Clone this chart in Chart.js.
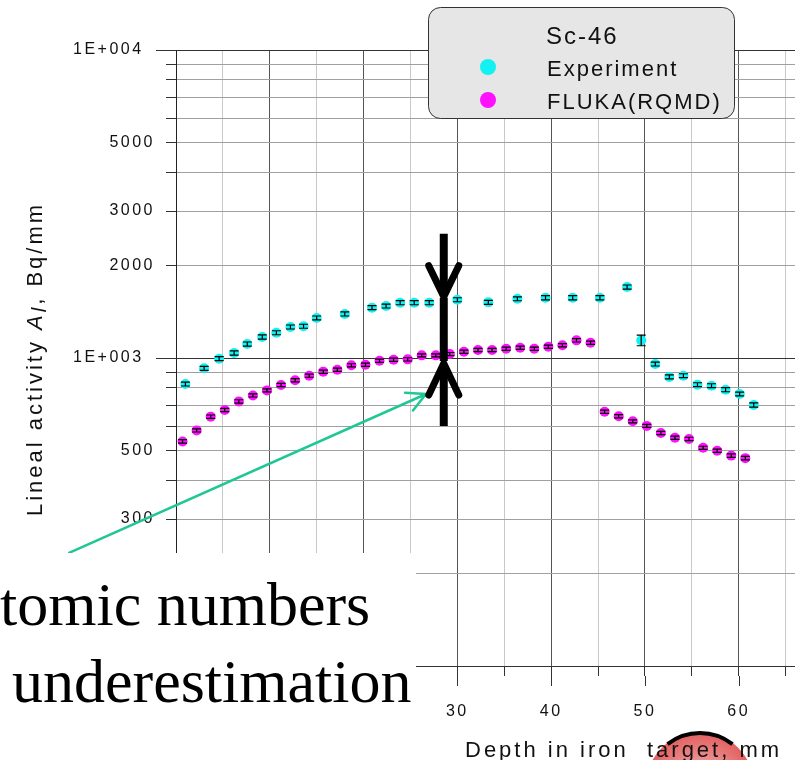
<!DOCTYPE html>
<html>
<head>
<meta charset="utf-8">
<script src="https://cdn.jsdelivr.net/npm/chart.js@4.4.0/dist/chart.umd.min.js"></script>
<style>
  html, body { margin: 0; padding: 0; background: #fff; }
  canvas { display: block; }
</style>
</head>
<body>
<canvas id="chart" width="795" height="760"></canvas>
<script>
// Sc-46 lineal activity vs depth in the iron target
const expDepth = [1.0, 3.0, 4.6, 6.2, 7.6, 9.2, 10.7, 12.2, 13.6, 15.0, 18.0, 20.9, 22.4, 23.9, 25.4, 27.0,
  30.0, 33.3, 36.4, 39.4, 42.3, 45.2, 48.1, 49.6, 51.1, 52.6, 54.1, 55.6, 57.1, 58.6, 60.1, 61.6];
const expActivity = [823, 926, 995, 1038, 1110, 1170, 1208, 1261, 1268, 1349, 1390, 1457, 1475, 1512, 1512, 1512,
  1546, 1516, 1557, 1569, 1569, 1569, 1700, 1141, 956, 868, 876, 819, 813, 789, 764, 704];
const expError = [12, 14, 15, 16, 17, 18, 18, 19, 19, 20, 21, 22, 22, 23, 23, 23,
  23, 23, 23, 24, 24, 24, 26, 45, 14, 13, 13, 12, 12, 12, 11, 11];

const flukaDepth = [0.7, 2.2, 3.7, 5.2, 6.7, 8.2, 9.7, 11.2, 12.7, 14.2, 15.7, 17.2, 18.7, 20.2, 21.7, 23.2,
  24.7, 26.2, 27.7, 29.2, 30.7, 32.2, 33.7, 35.2, 36.7, 38.2, 39.7, 41.2, 42.7, 44.2, 45.7, 47.2,
  48.7, 50.2, 51.7, 53.2, 54.7, 56.2, 57.7, 59.2, 60.7];
const flukaActivity = [536, 582, 645, 678, 723, 756, 785, 817, 847, 876, 903, 916, 947, 951, 980, 987,
  990, 1020, 1020, 1030, 1048, 1062, 1062, 1072, 1080, 1072, 1088, 1100, 1141, 1121, 669, 647,
  623, 602, 571, 551, 546, 511, 500, 482, 473];
const flukaError = [7, 7, 8, 8, 9, 9, 9, 10, 10, 10, 11, 11, 11, 11, 12, 12,
  12, 12, 12, 12, 13, 13, 13, 13, 13, 13, 13, 13, 14, 13, 8, 8,
  7, 7, 7, 7, 7, 6, 6, 6, 6];

const xTickValues = [0, 5, 10, 15, 20, 25, 30, 35, 40, 45, 50, 55, 60, 65];
const yTickValues = [100, 200, 300, 400, 500, 600, 700, 800, 900,
  1000, 2000, 3000, 4000, 5000, 6000, 7000, 8000, 9000, 10000];
const yTickLabels = { 100: '1E+002', 200: '200', 300: '300', 500: '500', 1000: '1E+003',
  2000: '2000', 3000: '3000', 5000: '5000', 10000: '1E+004' };

// annotation anchors, in data units (mm, Bq/mm)
const bracketX = 28.55;
const greenFrom = { x: -11.4, y: 233 };
const greenTo = { x: 26.66, y: 764 };

const SANS = "'Liberation Sans', Arial, sans-serif";
const SERIF = "'Liberation Serif', 'Times New Roman', serif";
Chart.defaults.font.family = SANS;
Chart.defaults.color = '#111';

const toPoints = (xs, ys, es) => xs.map((x, i) => ({ x: x, y: ys[i], err: es[i] }));
const isDecade = v => Math.abs(Math.log10(v) - Math.round(Math.log10(v))) < 1e-9;

const overlay = {
  id: 'overlay',
  beforeDraw(chart) {
    const ctx = chart.ctx;
    ctx.save();
    ctx.fillStyle = '#fff';
    ctx.fillRect(0, 0, chart.width, chart.height);
    // red disc peeking in at the bottom
    const g = ctx.createRadialGradient(700, 800, 4, 700, 786, 56);
    g.addColorStop(0, '#f7d0d0');
    g.addColorStop(1, '#e25b5b');
    ctx.beginPath();
    ctx.arc(700, 786, 54, 0, Math.PI * 2);
    ctx.fillStyle = g;
    ctx.fill();
    ctx.beginPath();
    ctx.arc(700, 786, 53, Math.PI * 1.29, Math.PI * 1.71);
    ctx.lineWidth = 4;
    ctx.strokeStyle = '#000';
    ctx.stroke();
    ctx.restore();
    ctx.letterSpacing = '2.5px';
  },
  afterDatasetsDraw(chart) {
    const { ctx, scales: { x, y } } = chart;
    ctx.save();
    ctx.strokeStyle = '#000';
    ctx.lineWidth = 1.2;
    chart.data.datasets.forEach(ds => {
      ds.data.forEach(p => {
        const px = x.getPixelForValue(p.x);
        const top = y.getPixelForValue(p.y + p.err);
        const bot = y.getPixelForValue(p.y - p.err);
        ctx.beginPath();
        ctx.moveTo(px, top); ctx.lineTo(px, bot);
        ctx.moveTo(px - 4.5, top); ctx.lineTo(px + 4.5, top);
        ctx.moveTo(px - 4.5, bot); ctx.lineTo(px + 4.5, bot);
        ctx.stroke();
      });
    });
    ctx.restore();
  },
  afterDraw(chart) {
    const { ctx, chartArea: area, scales: { x, y } } = chart;
    ctx.save();
    ctx.letterSpacing = '0px';

    // longer ticks on decades and on every 10 mm
    ctx.strokeStyle = '#333';
    ctx.lineWidth = 1;
    ctx.beginPath();
    yTickValues.filter(isDecade).forEach(v => {
      const py = Math.round(y.getPixelForValue(v)) + 0.5;
      ctx.moveTo(area.left - 20, py); ctx.lineTo(area.left - 10, py);
    });
    xTickValues.filter(v => v % 10 === 0).forEach(v => {
      const px = Math.round(x.getPixelForValue(v)) + 0.5;
      ctx.moveTo(px, area.bottom + 10); ctx.lineTo(px, area.bottom + 20);
    });
    ctx.stroke();

    // y axis title with italic symbol
    ctx.save();
    ctx.translate(42, 359);
    ctx.rotate(-Math.PI / 2);
    ctx.letterSpacing = '3px';
    ctx.fillStyle = '#111';
    ctx.textBaseline = 'alphabetic';
    ctx.textAlign = 'left';
    const parts = [
      { t: 'Lineal activity ', f: '22px ' + SANS, dy: 0 },
      { t: 'A', f: 'italic 22px ' + SANS, dy: 0 },
      { t: 'l', f: 'italic 20px ' + SANS, dy: 4 },
      { t: ', Bq/mm', f: '22px ' + SANS, dy: 0 }
    ];
    let total = 0;
    parts.forEach(p => { ctx.font = p.f; p.w = ctx.measureText(p.t).width; total += p.w; });
    let cx = -total / 2;
    parts.forEach(p => { ctx.font = p.f; ctx.fillText(p.t, cx, p.dy); cx += p.w; });
    ctx.restore();

    // x axis title
    ctx.save();
    ctx.letterSpacing = '3px';
    ctx.font = '22px ' + SANS;
    ctx.fillStyle = '#111';
    ctx.textAlign = 'left';
    ctx.fillText('Depth in iron  target, mm', 465, 757);
    ctx.restore();

    // legend box
    ctx.save();
    ctx.beginPath();
    ctx.roundRect(428.5, 7.5, 306, 111, 12);
    ctx.fillStyle = '#e6e6e6';
    ctx.fill();
    ctx.strokeStyle = '#333';
    ctx.lineWidth = 1;
    ctx.stroke();
    ctx.fillStyle = '#111';
    ctx.textAlign = 'left';
    ctx.letterSpacing = '2px';
    ctx.font = '24px ' + SANS;
    ctx.fillText('Sc-46', 546, 44);
    ctx.font = '22px ' + SANS;
    chart.data.datasets.forEach((ds, i) => {
      const ly = 67 + i * 33;
      ctx.beginPath();
      ctx.arc(488, ly, 8, 0, Math.PI * 2);
      ctx.fillStyle = ds.backgroundColor;
      ctx.fill();
      ctx.fillStyle = '#111';
      ctx.fillText(ds.label, 547, ly + 9);
    });
    ctx.restore();

    // green pointer arrow
    const g0 = { x: x.getPixelForValue(greenFrom.x), y: y.getPixelForValue(greenFrom.y) };
    const g1 = { x: x.getPixelForValue(greenTo.x), y: y.getPixelForValue(greenTo.y) };
    const ang = Math.atan2(g0.y - g1.y, g0.x - g1.x);
    ctx.strokeStyle = '#1fc795';
    ctx.lineWidth = 2.5;
    ctx.lineCap = 'round';
    ctx.beginPath();
    ctx.moveTo(g0.x, g0.y); ctx.lineTo(g1.x, g1.y);
    [0.48, -0.48].forEach(d => {
      ctx.moveTo(g1.x, g1.y);
      ctx.lineTo(g1.x + 21 * Math.cos(ang + d), g1.y + 21 * Math.sin(ang + d));
    });
    ctx.stroke();

    // black double arrow marking the gap
    const bx = x.getPixelForValue(bracketX);
    const wing = x.getPixelForValue(bracketX + 1.6) - bx;
    const py = v => y.getPixelForValue(v);
    ctx.strokeStyle = '#000';
    ctx.fillStyle = '#000';
    ctx.lineWidth = 8;
    ctx.lineCap = 'butt';
    ctx.beginPath();
    ctx.moveTo(bx, py(2530)); ctx.lineTo(bx, py(1600));
    ctx.moveTo(bx, py(945)); ctx.lineTo(bx, py(602));
    ctx.stroke();
    ctx.fillRect(bx - 4, py(1569), 8, py(978) - py(1569));
    ctx.lineWidth = 7;
    ctx.lineCap = 'round';
    ctx.lineJoin = 'miter';
    ctx.beginPath();
    ctx.moveTo(bx - wing, py(1994)); ctx.lineTo(bx, py(1582)); ctx.lineTo(bx + wing, py(1994));
    ctx.moveTo(bx - wing, py(758)); ctx.lineTo(bx, py(961)); ctx.lineTo(bx + wing, py(758));
    ctx.stroke();

    // white text box pasted over the lower left
    ctx.fillStyle = '#fff';
    ctx.fillRect(0, 553, 416, chart.height - 553);
    ctx.fillStyle = '#000';
    ctx.font = '62px ' + SERIF;
    ctx.textAlign = 'left';
    ctx.fillText('tomic numbers', 0, 625);
    ctx.fillText('underestimation', 12, 702);
    ctx.restore();
  }
};

new Chart(document.getElementById('chart'), {
  type: 'scatter',
  data: {
    datasets: [
      {
        label: 'Experiment',
        data: toPoints(expDepth, expActivity, expError),
        backgroundColor: '#12f2f2',
        borderWidth: 0,
        pointRadius: 5,
        pointHoverRadius: 5
      },
      {
        label: 'FLUKA(RQMD)',
        data: toPoints(flukaDepth, flukaActivity, flukaError),
        backgroundColor: '#ff10ff',
        borderWidth: 0,
        pointRadius: 5,
        pointHoverRadius: 5
      }
    ]
  },
  options: {
    responsive: false,
    animation: false,
    layout: { autoPadding: false, padding: { top: 50, left: 0, right: 0, bottom: 0 } },
    plugins: {
      legend: { display: false },
      tooltip: { enabled: false }
    },
    scales: {
      x: {
        type: 'linear',
        min: 0,
        max: 66,
        afterBuildTicks: s => { s.ticks = xTickValues.map(v => ({ value: v })); },
        afterFit: s => {
          s.height = 94;
          s.paddingLeft = 0;
          s.paddingRight = 0;
        },
        ticks: {
          autoSkip: false,
          maxRotation: 0,
          padding: 26,
          font: { size: 16 },
          color: '#111',
          callback: v => (v % 10 === 0 ? String(v) : '')
        },
        grid: {
          color: c => (c.tick && c.tick.value % 10 === 0 ? '#555' : '#c8c8c8'),
          tickColor: '#333',
          tickLength: 10
        },
        border: { color: '#333' }
      },
      y: {
        type: 'logarithmic',
        min: 100,
        max: 10000,
        afterBuildTicks: s => { s.ticks = yTickValues.map(v => ({ value: v })); },
        afterFit: s => {
          s.width = 176;
          s.paddingTop = 0;
          s.paddingBottom = 0;
        },
        ticks: {
          autoSkip: false,
          padding: 11,
          font: { size: 16 },
          color: '#111',
          callback: v => {
            const lab = yTickLabels[v];
            if (!lab) return '';
            return isDecade(v) ? lab + '\u2009\u2009' : lab;
          }
        },
        grid: {
          color: c => (c.tick && isDecade(c.tick.value) ? '#333' : '#a0a0a0'),
          tickColor: '#333',
          tickLength: 10
        },
        border: { color: '#222' }
      }
    }
  },
  plugins: [overlay]
});
</script>
</body>
</html>
